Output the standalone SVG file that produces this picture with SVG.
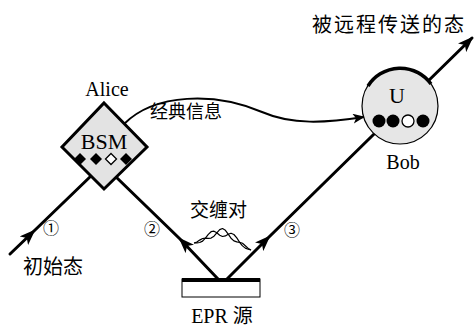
<svg xmlns="http://www.w3.org/2000/svg" width="476" height="329" viewBox="0 0 476 329">
<style>
.ln{fill:none;stroke:#000;stroke-width:3;stroke-linecap:round}
.cjk{font-family:"Noto Sans CJK SC",sans-serif;fill:#000}
.ser{font-family:"Liberation Serif",serif;fill:#000}
.num{font-family:"Noto Sans CJK SC","DejaVu Sans",sans-serif;font-size:16px;fill:#000}
.wave{fill:none;stroke:#000;stroke-width:1.2;stroke-linejoin:round}
</style>
<defs>
<marker id="ah" markerUnits="userSpaceOnUse" viewBox="0 0 16 12" refX="14" refY="6" markerWidth="16" markerHeight="12" orient="auto">
<path d="M0,0 L16,6 L0,12 L4,6 z" fill="#000"/>
</marker>
<marker id="ahs" markerUnits="userSpaceOnUse" viewBox="0 0 12 10" refX="11" refY="5" markerWidth="12" markerHeight="10" orient="auto">
<path d="M0,0 L12,5 L0,10 L3,5 z" fill="#000"/>
</marker>
</defs>
<g id="connectors">
<path class="ln" d="M10,254 L34,231 L92,175" marker-mid="url(#ah)"/>
<path class="ln" d="M218,279 L180,239 L115,176" marker-mid="url(#ah)"/>
<path class="ln" d="M227,279 L269,237 L472,38" marker-mid="url(#ah)" marker-end="url(#ah)"/>
<path fill="none" stroke="#000" stroke-width="2" d="M124,124 C155,93 215,92 262,112 C292,125 325,123 364,117" marker-end="url(#ahs)"/>
<polyline class="wave" points="194,243 196.9,242.1 199.7,240.1 202.6,238.5 205.4,238.1 208.3,238.4 211.1,238.1 214,236.2 216.8,232.8 219.7,229.6 222.5,228.5 225.4,230.3 228.2,234.2 231,238.2 233.9,240.9 236.8,241.9 239.6,242.3 242.5,243.3 245.3,245.7 248.2,248.4 251,250"/>
<polyline class="wave" points="194,243 196.9,242.9 199.7,242.5 202.6,241.1 205.4,238.1 208.3,234.4 211.1,231.7 214,231.2 216.8,232.8 219.7,235.2 222.5,236.5 225.4,235.9 228.2,234.2 231,233.2 233.9,234.5 236.8,237.9 239.6,242.3 242.5,245.9 245.3,248.1 248.2,249.2 251,250"/>
</g>
<g id="alice">
<polygon points="104,103 147,147 104,189 62,147" fill="#e3e3e3" stroke="#000" stroke-width="3" stroke-linejoin="miter"/>
<text class="ser" x="107" y="96" font-size="20" text-anchor="middle">Alice</text>
<text class="ser" x="104" y="149" font-size="22" text-anchor="middle">BSM</text>
<polygon points="80,153 86,159 80,165 74,159" fill="#000"/>
<polygon points="96,153 102,159 96,165 90,159" fill="#000"/>
<polygon points="111,153.5 116.5,159 111,164.5 105.5,159" fill="#fff" stroke="#000" stroke-width="1.3"/>
<polygon points="126,153 132,159 126,165 120,159" fill="#000"/>
</g>
<g id="bob">
<circle cx="400" cy="106" r="38" fill="#e6e6e6" stroke="#000" stroke-width="1.2"/>
<path d="M368,86 A38,38 0 0 1 431,84" fill="none" stroke="#000" stroke-width="3.5"/>
<text class="ser" x="397" y="103" font-size="22" text-anchor="middle">U</text>
<circle cx="379" cy="121" r="6.5" fill="#000"/>
<circle cx="393" cy="121" r="6.5" fill="#000"/>
<circle cx="408" cy="121" r="6" fill="#fff" stroke="#000" stroke-width="1.3"/>
<circle cx="423" cy="121" r="6.5" fill="#000"/>
<text class="ser" x="403" y="169" font-size="20" text-anchor="middle">Bob</text>
</g>
<g id="epr">
<rect x="182" y="279" width="78" height="18" fill="#fff" stroke="#000" stroke-width="1"/>
<rect x="182" y="278" width="78" height="4" fill="#000"/>
<text x="222" y="323" text-anchor="middle" font-size="20"><tspan class="ser">EPR </tspan><tspan class="cjk">源</tspan></text>
</g>
<g id="labels">
<text class="cjk" x="312" y="32" font-size="20" letter-spacing="2">被远程传送的态</text>
<text class="cjk" x="150" y="118" font-size="18">经典信息</text>
<text class="cjk" x="190" y="217" font-size="19">交缠对</text>
<text class="cjk" x="23" y="274" font-size="20">初始态</text>
<text class="num" x="51" y="234" text-anchor="middle">①</text>
<text class="num" x="152" y="235" text-anchor="middle">②</text>
<text class="num" x="292" y="236" text-anchor="middle">③</text>
</g>
</svg>
